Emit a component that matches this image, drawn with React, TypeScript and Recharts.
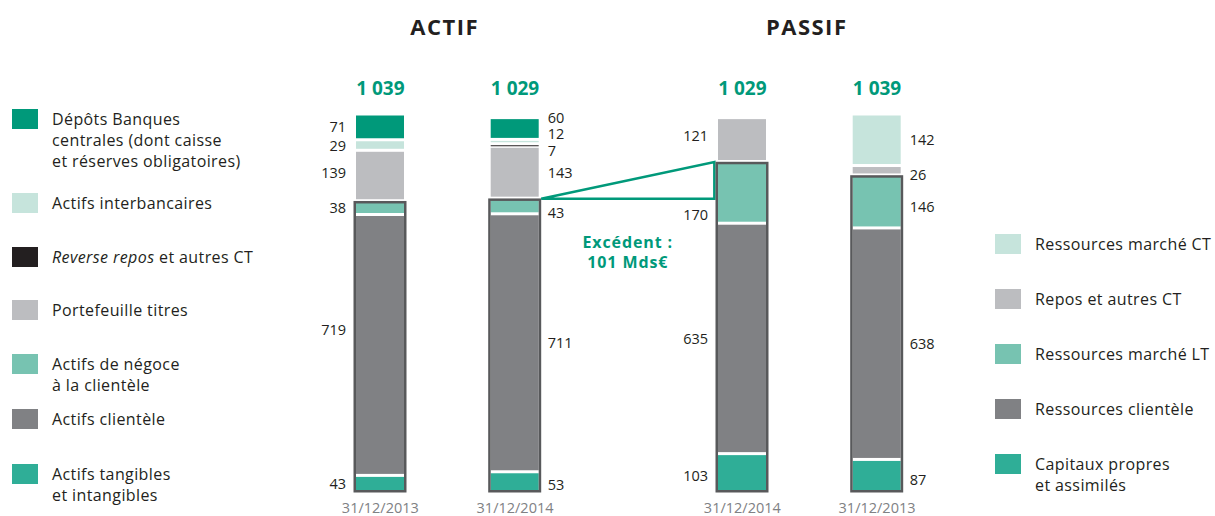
import React from "react";
import { BarChart, Bar, XAxis, YAxis } from "recharts";

const FONT = '"Open Sans", "DejaVu Sans", sans-serif';
const INK = "#231f20";
const GREEN = "#00997a";
const OUTLINE = "#58595b";

// Actif (Mds€)
const actifDates = ["31/12/2013", "31/12/2014"];
const depotsBC = [71, 60];
const interbancaires = [29, 12];
const reverseRepos = [0, 7];
const portefeuille = [139, 143];
const negoce = [38, 43];
const actifsClientele = [719, 711];
const tangibles = [43, 53];

// Passif (Mds€)
const passifDates = ["31/12/2014", "31/12/2013"];
const ressourcesCT = [0, 142];
const reposCT = [121, 26];
const ressourcesLT = [170, 146];
const ressourcesClientele = [635, 638];
const capitaux = [103, 87];

type Series = {
  key: string;
  name: string;
  italic?: string;
  color: string;
  values: number[];
  box?: boolean;
};

// stacked bottom -> top
const actifSeries: Series[] = [
  { key: "tangibles", name: "Actifs tangibles\net intangibles", color: "#2fae97", values: tangibles, box: true },
  { key: "clientele", name: "Actifs clientèle", color: "#808184", values: actifsClientele, box: true },
  { key: "negoce", name: "Actifs de négoce\nà la clientèle", color: "#77c3b1", values: negoce, box: true },
  { key: "portefeuille", name: "Portefeuille titres", color: "#bcbdc0", values: portefeuille },
  { key: "reverse", italic: "Reverse repos", name: " et autres CT", color: "#231f20", values: reverseRepos },
  { key: "interbancaires", name: "Actifs interbancaires", color: "#c6e4dc", values: interbancaires },
  { key: "depots", name: "Dépôts Banques\ncentrales (dont caisse\net réserves obligatoires)", color: "#00997a", values: depotsBC },
];

const passifSeries: Series[] = [
  { key: "capitaux", name: "Capitaux propres\net assimilés", color: "#2fae97", values: capitaux, box: true },
  { key: "rclientele", name: "Ressources clientèle", color: "#808184", values: ressourcesClientele, box: true },
  { key: "lt", name: "Ressources marché LT", color: "#77c3b1", values: ressourcesLT, box: true },
  { key: "repos", name: "Repos et autres CT", color: "#bcbdc0", values: reposCT },
  { key: "ct", name: "Ressources marché CT", color: "#c6e4dc", values: ressourcesCT },
];

// small vertical shifts so close labels don't collide
const LABEL_NUDGE: Record<string, number> = {
  "clientele-0": -15,
  "portefeuille-0": -3,
  "depots-1": -11,
  "interbancaires-1": -8,
  "reverse-1": 5,
  "negoce-1": 7,
  "tangibles-1": 3,
  "repos-0": -4,
  "lt-0": 22,
  "capitaux-0": 3,
  "repos-1": 4,
  "lt-1": 5,
  "capitaux-1": 4,
};

const W = 1215;
const H = 516;
const PLOT_TOP = 114;
const PLOT_BOTTOM = 491;
const TOP_AXIS = 40;
const BAND = 134.7;
const BAR = 48;
const ACTIF_LEFT = 313;
const PASSIF_LEFT = 675;

const sumAll = (series: Series[], i: number) => series.reduce((a, s) => a + s.values[i], 0);
const sumBox = (series: Series[], i: number) =>
  series.filter((s) => s.box).reduce((a, s) => a + s.values[i], 0);

const fmt = (n: number) => String(n).replace(/\B(?=(\d{3})+(?!\d))/g, " ");

// 2014 on both sides
const excedent = sumBox(passifSeries, 0) - sumBox(actifSeries, 1);

type Bridge = { index: number; units: number; toX: number };

const Segment = (props: any) => {
  const { x, y, width, height, index, s, isBottom, isBoxTop, boxUnits, bridge } = props;
  const v = s.values[index];
  if (!v || !height || height <= 0) return <g />;
  const ppu = height / v;
  const gap = 1.5;
  const top = y + gap;
  const bottom = y + height - (isBottom ? 0 : gap);
  const h = Math.max(bottom - top, 1);
  const left = index === 0;
  const lx = left ? x - 10 : x + width + 9;
  const ly = y + height / 2 + (LABEL_NUDGE[`${s.key}-${index}`] ?? 0);
  const b: Bridge | undefined = bridge;

  return (
    <g>
      <rect x={x} y={top} width={width} height={h} fill={s.color} />
      {isBoxTop && (
        <rect
          x={x - 1.25}
          y={y + 1.5}
          width={width + 2.5}
          height={boxUnits[index] * ppu - 1.25}
          fill="none"
          stroke={OUTLINE}
          strokeWidth={2.5}
        />
      )}
      {isBoxTop && b && b.index === index && (() => {
        const x0 = x + width + 2.5;
        const yb = y + 0.5;
        const ty = yb - b.units * ppu;
        const cx = (x0 + b.toX) / 2;
        const txt = {
          textAnchor: "middle" as const,
          dominantBaseline: "central" as const,
          fill: GREEN,
          fontSize: 16,
          fontWeight: 700,
          fontFamily: FONT,
          letterSpacing: 0.9,
        };
        return (
          <g>
            <polygon
              points={`${x0},${yb} ${b.toX},${ty} ${b.toX},${yb}`}
              fill="none"
              stroke={GREEN}
              strokeWidth={2.5}
            />
            <text x={cx} y={yb + 43} {...txt}>
              Excédent :
            </text>
            <text x={cx} y={yb + 63} {...txt}>
              {`${b.units} Mds€`}
            </text>
          </g>
        );
      })()}
      <text
        x={lx}
        y={ly}
        textAnchor={left ? "end" : "start"}
        dominantBaseline="central"
        fill={INK}
        fontSize={14.5}
        fontFamily={FONT}
      >
        {v}
      </text>
    </g>
  );
};

const DateTick = (props: any) => {
  const { x, y, payload } = props;
  return (
    <text x={x} y={y + 16} textAnchor="middle" dominantBaseline="central" fill="#808184" fontSize={14.5} fontFamily={FONT}>
      {payload.value}
    </text>
  );
};

const TotalTick = (props: any) => {
  const { x, y, payload, totals, dates } = props;
  const i = dates.indexOf(payload.value);
  return (
    <text x={x} y={y - 26} textAnchor="middle" dominantBaseline="central" fill={GREEN} fontSize={19} fontWeight={700} fontFamily={FONT}>
      {fmt(totals[i])}
    </text>
  );
};

const StackChart = ({
  dates,
  series,
  left,
  bridge,
}: {
  dates: string[];
  series: Series[];
  left: number;
  bridge?: Bridge;
}) => {
  const data = dates.map((d, i) => {
    const row: Record<string, any> = { date: d };
    series.forEach((s) => (row[s.key] = s.values[i]));
    return row;
  });
  const totals = dates.map((_, i) => sumAll(series, i));
  const boxUnits = dates.map((_, i) => sumBox(series, i));
  const boxKeys = series.filter((s) => s.box).map((s) => s.key);
  const boxTopKey = boxKeys[boxKeys.length - 1];
  const max = Math.max(...totals, 1039);

  return (
    <div style={{ position: "absolute", left: 0, top: 0 }}>
      <BarChart
        width={W}
        height={H}
        data={data}
        margin={{ top: PLOT_TOP - TOP_AXIS, bottom: 0, left, right: W - left - BAND * dates.length }}
      >
        <XAxis
          dataKey="date"
          axisLine={false}
          tickLine={false}
          tickSize={0}
          tickMargin={0}
          height={H - PLOT_BOTTOM}
          interval={0}
          tick={<DateTick />}
        />
        <XAxis
          xAxisId="top"
          orientation="top"
          dataKey="date"
          axisLine={false}
          tickLine={false}
          tickSize={0}
          tickMargin={0}
          height={TOP_AXIS}
          interval={0}
          tick={<TotalTick totals={totals} dates={dates} />}
        />
        <YAxis hide domain={[0, max]} />
        {series.map((s, k) => (
          <Bar
            key={s.key}
            dataKey={s.key}
            stackId="a"
            barSize={BAR}
            fill={s.color}
            isAnimationActive={false}
            shape={(p: any) => (
              <Segment
                {...p}
                s={s}
                isBottom={k === 0}
                isBoxTop={s.key === boxTopKey}
                boxUnits={boxUnits}
                bridge={bridge}
              />
            )}
          />
        ))}
      </BarChart>
    </div>
  );
};

const Legend = ({ series, x, tops }: { series: Series[]; x: number; tops: number[] }) => {
  const items = [...series].reverse();
  return (
    <>
      {items.map((s, i) => (
        <div key={s.key} style={{ position: "absolute", left: x, top: tops[i], display: "flex" }}>
          <div style={{ width: 26, height: 20, background: s.color, flex: "none" }} />
          <div
            style={{
              marginLeft: 14,
              fontFamily: FONT,
              fontSize: 16,
              letterSpacing: 0.4,
              lineHeight: "21px",
              color: INK,
              whiteSpace: "pre",
            }}
          >
            {s.italic && <i>{s.italic}</i>}
            {s.name}
          </div>
        </div>
      ))}
    </>
  );
};

const Title = ({ text, cx }: { text: string; cx: number }) => (
  <div
    style={{
      position: "absolute",
      left: cx - 100,
      width: 200,
      top: 12,
      textAlign: "center",
      fontFamily: FONT,
      fontWeight: 700,
      fontSize: 22,
      letterSpacing: 1.5,
      lineHeight: "28px",
      color: INK,
    }}
  >
    {text}
  </div>
);

export default function App() {
  const passifBarLeft = PASSIF_LEFT + BAND / 2 - BAR / 2;
  return (
    <div style={{ position: "absolute", left: 0, top: 0, width: W, height: H, background: "#fff", overflow: "hidden" }}>
      <Title text="ACTIF" cx={ACTIF_LEFT + BAND - 3} />
      <Title text="PASSIF" cx={PASSIF_LEFT + BAND - 3} />
      <StackChart
        dates={actifDates}
        series={actifSeries}
        left={ACTIF_LEFT}
        bridge={{ index: 1, units: excedent, toX: passifBarLeft - 4 }}
      />
      <StackChart dates={passifDates} series={passifSeries} left={PASSIF_LEFT} />
      <Legend series={actifSeries} x={12} tops={[109, 193, 247, 300, 354, 409, 464]} />
      <Legend series={passifSeries} x={995} tops={[234, 289, 344, 399, 454]} />
    </div>
  );
}
